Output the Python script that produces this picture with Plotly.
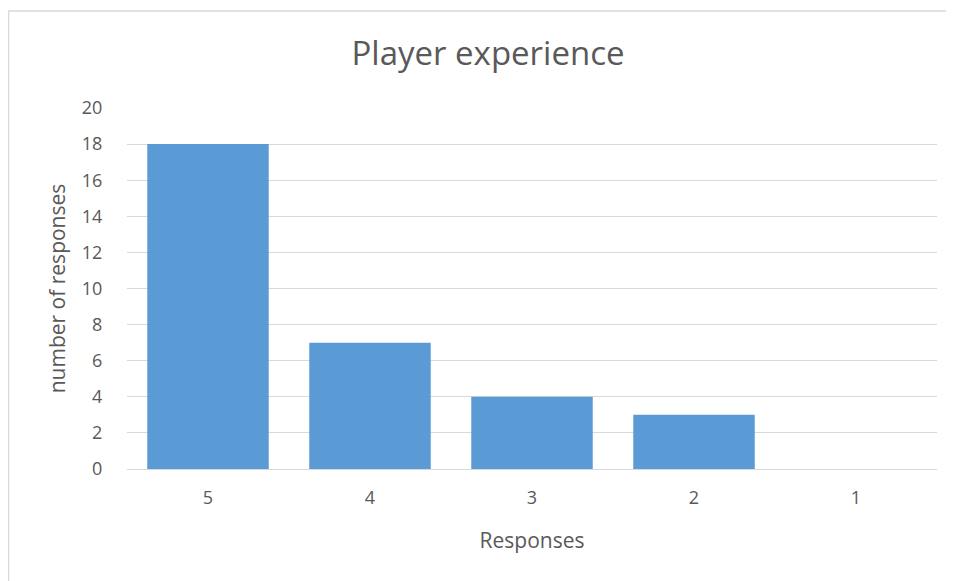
import plotly.graph_objects as go

categories = ["5", "4", "3", "2", "1"]
values = [18, 7, 4, 3, 0]
y_ticks = [0, 2, 4, 6, 8, 10, 12, 14, 16, 18, 20]

FONT = "Open Sans"
GRAY = "#595959"

# page has an 8px body margin, so the figure is sized/offset to compensate
W, H = 946, 573
L, R, T, B = 119, 17, 100, 112
PW, PH = W - L - R, H - T - B

fig = go.Figure(go.Bar(x=categories, y=values, marker=dict(color="#5B9BD5", line=dict(width=0))))

fig.update_layout(
    width=W, height=H,
    margin=dict(l=L, r=R, t=T, b=B),
    paper_bgcolor="white", plot_bgcolor="white",
    bargap=0.25,
    font=dict(family=FONT, color=GRAY, size=18),
    title=dict(text="Player experience", x=480 / W, xanchor="center", xref="container",
               y=1 - 45 / H, yanchor="middle", font=dict(size=33, color=GRAY, family=FONT)),
    xaxis=dict(type="category", showgrid=False, showline=True, linecolor="#d9d9d9", linewidth=1,
               ticks="outside", ticklen=12, tickcolor="rgba(0,0,0,0)",
               tickfont=dict(size=18, color=GRAY),
               title=dict(text="Responses", standoff=25, font=dict(size=21, color=GRAY))),
    yaxis=dict(range=[0, 20], tickvals=y_ticks, showgrid=True, gridcolor="#d9d9d9", gridwidth=1,
               zeroline=False, showline=False, ticks="outside", ticklen=20, tickcolor="rgba(0,0,0,0)",
               tickfont=dict(size=18, color=GRAY),
               title=dict(text="number of responses", standoff=10, font=dict(size=21, color=GRAY))),
    showlegend=False,
)

fig.add_shape(type="rect", xref="paper", yref="paper",
              x0=(0.5 - L) / PW, x1=(W + 20 - L) / PW,
              y0=(T + PH - (H + 20)) / PH, y1=(T + PH - 3) / PH,
              line=dict(color="#d9d9d9", width=1.5), fillcolor="rgba(0,0,0,0)", layer="below")

fig.write_html("out.html")
